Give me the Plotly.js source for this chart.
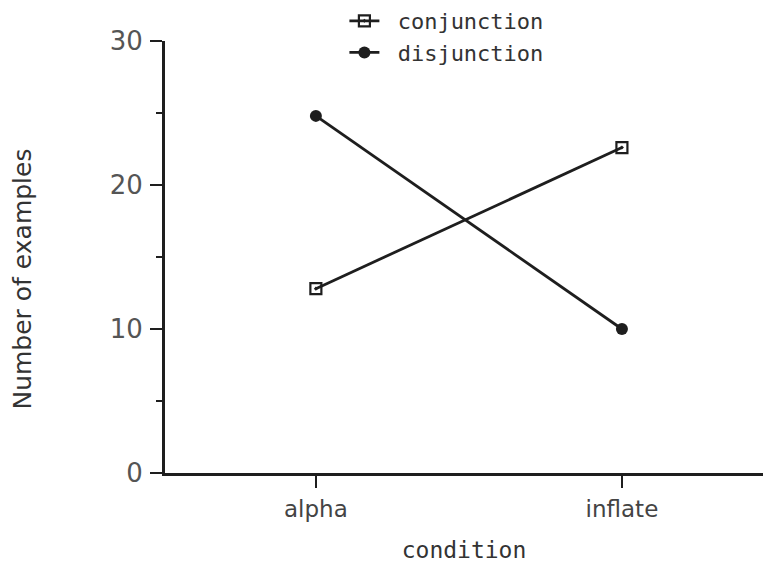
<!DOCTYPE html>
<html><head><meta charset="utf-8">
<script src="https://cdn.plot.ly/plotly-3.0.1.min.js"></script>
<style>html,body{margin:0;padding:0;background:#fff}#chart{width:763px;height:563px}</style>
</head><body><div id="chart"></div>
<script>
const categories = ["alpha", "inflate"];
const conjunction = [12.8, 22.6];
const disjunction = [24.8, 10.0];
const seriesNames = ["conjunction", "disjunction"];
const yTicks = [0, 10, 20, 30];

const ink = "#1e1e1e";
const pad = "\u00a0";
const traces = [
  {x: categories, y: conjunction, name: pad + seriesNames[0], type: "scatter", mode: "lines+markers",
   line: {color: ink, width: 2.8},
   marker: {symbol: "square-open-dot", size: 11, color: ink, line: {width: 2.2, color: ink}}},
  {x: categories, y: disjunction, name: pad + seriesNames[1], type: "scatter", mode: "lines+markers",
   line: {color: ink, width: 2.8},
   marker: {symbol: "circle", size: 12, color: ink}}
];
const layout = {
  width: 763, height: 563,
  margin: {l: 165, r: 0, t: 40, b: 90},
  paper_bgcolor: "#fff", plot_bgcolor: "#fff",
  font: {family: "DejaVu Sans", color: "#444", size: 17},
  showlegend: true,
  legend: {x: 0.3, xanchor: "left", y: 1.095, yanchor: "top", bgcolor: "rgba(0,0,0,0)",
    font: {family: "DejaVu Sans Mono", size: 22, color: "#333"}, tracegroupgap: 0, itemwidth: 30},
  xaxis: {type: "category", range: [-0.493, 1.461], showline: true, linecolor: ink, linewidth: 3,
    ticks: "outside", ticklen: 12, tickwidth: 2.5, tickcolor: ink, showgrid: false, zeroline: false,
    tickfont: {family: "DejaVu Sans", size: 23, color: "#444"}, ticklabelstandoff: 1,
    title: {text: "condition", font: {family: "DejaVu Sans Mono", size: 23, color: "#333"}, standoff: 22}},
  yaxis: {range: [0, 30], showline: true, linecolor: ink, linewidth: 3,
    tickvals: yTicks, ticks: "outside", ticklen: 12, tickwidth: 2.5, tickcolor: ink,
    minor: {dtick: 5, tick0: 0, ticks: "outside", ticklen: 6, tickwidth: 2.5, tickcolor: ink},
    showgrid: false, zeroline: false, ticklabelstandoff: 2,
    tickfont: {family: "DejaVu Sans", size: 26, color: "#555"}},
  annotations: [{text: "Number of examples", xref: "paper", yref: "paper", x: -0.2375, y: 0.45,
    xanchor: "center", yanchor: "middle", textangle: -90, showarrow: false,
    font: {family: "DejaVu Sans", size: 25, color: "#333"}}]
};
Plotly.newPlot("chart", traces, layout, {displayModeBar: false, staticPlot: true});
</script></body></html>
